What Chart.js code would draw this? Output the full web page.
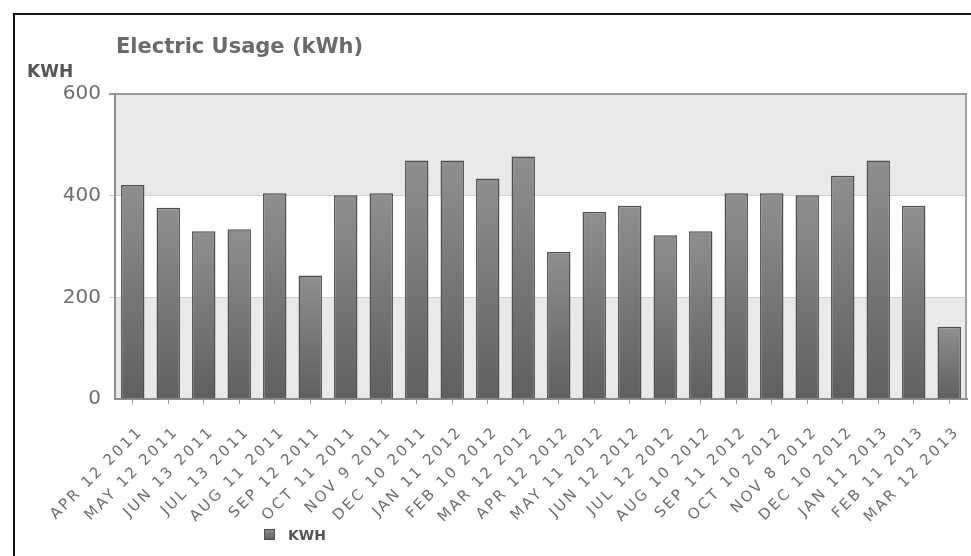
<!DOCTYPE html>
<html>
<head>
<meta charset="utf-8">
<title>Electric Usage (kWh)</title>
<script src="https://cdn.jsdelivr.net/npm/chart.js@4/dist/chart.umd.min.js"></script>
<style>
    html, body { margin: 0; padding: 0; background: #fff; }
    #wrap { position: relative; width: 971px; height: 556px; }
    #frame {
        position: absolute; left: 13px; top: 13px; right: 0; bottom: 0;
        border-left: 2px solid #111; border-top: 2px solid #111;
    }
    #usageChart { position: absolute; left: 0; top: 0; }
</style>
</head>
<body>
<div id="wrap">
    <div id="frame"></div>
    <canvas id="usageChart" width="971" height="556"></canvas>
</div>
<script>
// Meter read dates and usage
const readDates = [
    'APR 12 2011', 'MAY 12 2011', 'JUN 13 2011', 'JUL 13 2011', 'AUG 11 2011', 'SEP 12 2011',
    'OCT 11 2011', 'NOV 9 2011', 'DEC 10 2011', 'JAN 11 2012', 'FEB 10 2012', 'MAR 12 2012',
    'APR 12 2012', 'MAY 11 2012', 'JUN 12 2012', 'JUL 12 2012', 'AUG 10 2012', 'SEP 11 2012',
    'OCT 10 2012', 'NOV 8 2012', 'DEC 10 2012', 'JAN 11 2013', 'FEB 11 2013', 'MAR 12 2013'
];
const kwhValues = [
    421, 376, 330, 334, 405, 243, 401, 405, 469, 469, 434, 477,
    289, 368, 380, 322, 330, 405, 405, 401, 439, 469, 380, 142
];
const yTicks = [0, 200, 400, 600];
const bandRanges = [[400, 600], [0, 200]];

const FONT = "'DejaVu Sans', 'Liberation Sans', sans-serif";

function barGradient(ctx) {
    const chart = ctx.chart;
    const area = chart.chartArea;
    if (!area || ctx.parsed === undefined) return '#777';
    const top = chart.scales.y.getPixelForValue(ctx.parsed.y);
    const g = chart.ctx.createLinearGradient(0, top, 0, area.bottom);
    g.addColorStop(0, '#8f8f92');
    g.addColorStop(1, '#5f5f62');
    return g;
}

// shaded bands, frame lines, title and legend
const decorPlugin = {
    id: 'decor',
    afterLayout(chart) {
        // the date labels are spread out a little in the original
        const x = chart.scales.x;
        if (!x._spaced) {
            const orig = x.drawLabels;
            x.drawLabels = function(area) {
                const c = this.ctx;
                c.save();
                c.letterSpacing = '2.5px';
                orig.call(this, area);
                c.restore();
            };
            x._spaced = true;
        }
    },
    beforeDraw(chart) {
        const { ctx, chartArea: a, scales: { y } } = chart;
        ctx.save();
        ctx.fillStyle = '#e9e9eb';
        bandRanges.forEach(([lo, hi]) => {
            const y1 = y.getPixelForValue(hi);
            const y2 = y.getPixelForValue(lo);
            ctx.fillRect(a.left, y1, a.right - a.left, y2 - y1);
        });
        ctx.restore();
    },
    afterDraw(chart) {
        const { ctx, chartArea: a } = chart;
        ctx.save();
        // right edge of plot
        ctx.strokeStyle = '#a0a0a0';
        ctx.lineWidth = 2;
        ctx.beginPath();
        ctx.moveTo(a.right - 1, a.top);
        ctx.lineTo(a.right - 1, a.bottom);
        ctx.stroke();

        ctx.textBaseline = 'alphabetic';
        ctx.textAlign = 'left';
        ctx.fillStyle = '#6b6b6b';
        ctx.font = 'bold 21px ' + FONT;
        ctx.fillText('Electric Usage (kWh)', a.left + 1, 53);

        ctx.fillStyle = '#555';
        ctx.font = 'bold 17px ' + FONT;
        ctx.fillText('KWH', 27, 77);

        // legend
        const lx = a.left + 149;
        const ly = 529;
        const g = ctx.createLinearGradient(0, ly, 0, ly + 11);
        g.addColorStop(0, '#8f8f92');
        g.addColorStop(1, '#5f5f62');
        ctx.fillStyle = g;
        ctx.fillRect(lx, ly, 11, 11);
        ctx.strokeStyle = '#505050';
        ctx.lineWidth = 1;
        ctx.strokeRect(lx + 0.5, ly + 0.5, 10, 10);
        ctx.fillStyle = '#555';
        ctx.font = 'bold 14px ' + FONT;
        ctx.fillText('KWH', lx + 24, ly + 11);
        ctx.restore();
    }
};

new Chart(document.getElementById('usageChart'), {
    type: 'bar',
    data: {
        labels: readDates,
        datasets: [{
            label: 'KWH',
            data: kwhValues,
            backgroundColor: barGradient,
            borderColor: '#4f4f52',
            borderWidth: 1.5,
            borderSkipped: 'bottom',
            categoryPercentage: 1,
            barPercentage: 0.66
        }]
    },
    options: {
        responsive: false,
        animation: false,
        layout: { padding: { top: 94, right: 4, left: 0, bottom: 0 } },
        plugins: {
            legend: { display: false },
            title: { display: false },
            tooltip: { enabled: false }
        },
        scales: {
            x: {
                afterFit(scale) {
                    scale.height = 157;
                    scale.paddingLeft = 0;
                    scale.paddingRight = 0;
                },
                border: { color: '#8e8e8e', width: 2 },
                grid: {
                    offset: false,
                    drawOnChartArea: false,
                    color: '#9a9a9a',
                    tickLength: 5
                },
                ticks: {
                    autoSkip: false,
                    maxRotation: 45,
                    minRotation: 45,
                    padding: 19,
                    labelOffset: 8,
                    color: '#6e6e6e',
                    font: { family: FONT, size: 15 }
                }
            },
            y: {
                min: 0,
                max: 600,
                afterFit(scale) { scale.width = 115; },
                afterBuildTicks(scale) {
                    scale.ticks = yTicks.map(v => ({ value: v }));
                },
                border: { color: '#8e8e8e', width: 2 },
                grid: {
                    tickLength: 6,
                    lineWidth: ctx => (ctx.tick && ctx.tick.value === 600 ? 2 : 1),
                    color: ctx => {
                        if (!ctx.tick) return '#ccc';
                        if (ctx.tick.value === 600) return '#9a9a9a';
                        if (ctx.tick.value === 0) return 'rgba(0,0,0,0)';
                        return '#cfcfcf';
                    }
                },
                ticks: {
                    padding: 8,
                    color: '#6e6e6e',
                    font: { family: FONT, size: 20 }
                }
            }
        }
    },
    plugins: [decorPlugin]
});
</script>
</body>
</html>
